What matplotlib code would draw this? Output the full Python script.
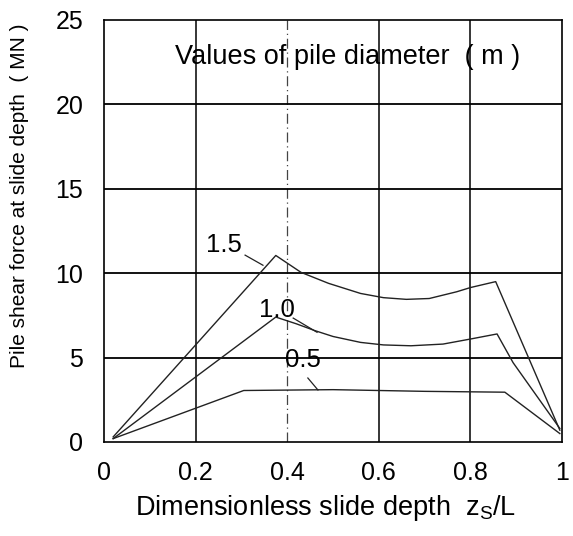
import numpy as np
import matplotlib
matplotlib.use('Agg')
import matplotlib.pyplot as plt
from matplotlib import font_manager

plt.rcParams['font.family'] = ['Liberation Sans', 'DejaVu Sans']

# shear force curves, one per pile diameter (m)
x_15 = [0.02, 0.375, 0.43, 0.49, 0.56, 0.61, 0.66, 0.71, 0.77, 0.80, 0.855, 0.995]
y_15 = [0.3, 11.05, 10.05, 9.4, 8.8, 8.55, 8.45, 8.5, 8.9, 9.15, 9.5, 0.7]

x_10 = [0.02, 0.375, 0.42, 0.46, 0.50, 0.56, 0.61, 0.67, 0.74, 0.80, 0.858, 0.893, 0.995]
y_10 = [0.2, 7.4, 7.0, 6.6, 6.25, 5.9, 5.75, 5.7, 5.8, 6.1, 6.4, 4.7, 0.8]

x_05 = [0.02, 0.305, 0.50, 0.70, 0.875, 0.995]
y_05 = [0.2, 3.05, 3.1, 3.0, 2.95, 0.5]

xticks = [0, 0.2, 0.4, 0.6, 0.8, 1]
xticklabels = ['0', '0.2', '0.4', '0.6', '0.8', '1']
yticks = [0, 5, 10, 15, 20, 25]

# narrow face for the vertical label if it is there
names = {f.name for f in font_manager.fontManager.ttflist}
if 'Liberation Sans Narrow' in names:
    ylab_font, ylab_size = 'Liberation Sans Narrow', 18
else:
    ylab_font, ylab_size = 'Liberation Sans', 15

fig = plt.figure(figsize=(5.73, 5.36), dpi=100)
ax = fig.add_axes([0.1815, 0.1754, 0.7995, 0.7873])

# grid: solid lines, dash-dot at 0.4
for xv in [0.2, 0.6, 0.8]:
    ax.axvline(xv, color='black', lw=1.1, zorder=1)
ax.axvline(0.4, color='#444444', lw=0.9, ls=(0, (8, 3, 1, 3)), zorder=1)
for yv in [5, 10, 15, 20]:
    ax.axhline(yv, color='black', lw=1.3, zorder=1)

for xs, ys in [(x_15, y_15), (x_10, y_10), (x_05, y_05)]:
    ax.plot(xs, ys, color='#222222', lw=1.0, zorder=2)

# curve labels with leader lines
ax.text(0.262, 11.65, '1.5', fontsize=18.5, ha='center', va='center')
ax.plot([0.308, 0.347], [11.07, 10.47], color='#222222', lw=0.9)
ax.text(0.378, 7.8, '1.0', fontsize=18.5, ha='center', va='center')
ax.plot([0.413, 0.465], [7.34, 6.5], color='#222222', lw=0.9)
ax.text(0.435, 4.85, '0.5', fontsize=18.5, ha='center', va='center')
ax.plot([0.445, 0.467], [3.79, 3.08], color='#222222', lw=0.9)

ax.text(0.155, 22.8, 'Values of pile diameter  ( m )', fontsize=19.5,
        ha='left', va='center')

ax.set_xlim(0, 1)
ax.set_ylim(0, 25)
ax.set_xticks(xticks)
ax.set_xticklabels(xticklabels)
ax.set_yticks(yticks)
ax.tick_params(length=0, labelsize=18, pad=15)
ax.tick_params(axis='x', pad=14)
for sp in ax.spines.values():
    sp.set_linewidth(1.2)

fig.text(20 / 573, 1 - 196 / 536, 'Pile shear force at slide depth  ( MN )',
         rotation=90, fontsize=ylab_size, family=[ylab_font, 'DejaVu Sans'],
         ha='center', va='center')
fig.text(326 / 573, 1 - 508 / 536, r'Dimensionless slide depth  z$_\mathregular{S}$/L',
         fontsize=19.5, ha='center', va='center')

fig.savefig('out.png', dpi=100)
